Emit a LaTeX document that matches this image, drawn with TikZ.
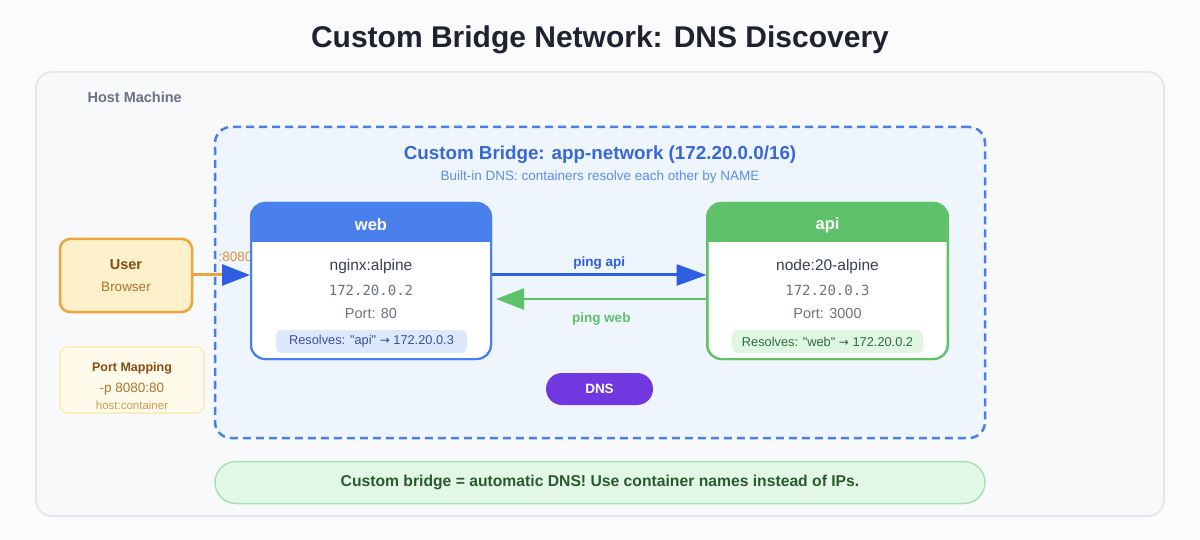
\documentclass[tikz,border=0pt]{standalone}
\usepackage{fontspec}
\setmainfont{Liberation Sans}
\setmonofont{DejaVu Sans Mono}
\newfontfamily\symfont{DejaVu Sans}
\newfontfamily\plainsans{Liberation Sans}
\usetikzlibrary{arrows.meta,positioning}
\definecolor{pagebg}{HTML}{FBFBFC}
\definecolor{hostfill}{HTML}{F8F9FB}
\definecolor{hostline}{HTML}{E2E5EA}
\definecolor{hostlabel}{HTML}{6B7280}
\definecolor{titlecol}{HTML}{1F2330}
\definecolor{bridgefill}{HTML}{EEF5FD}
\definecolor{bridgeline}{HTML}{4A7FE8}
\definecolor{bridgetitle}{HTML}{3867D6}
\definecolor{bridgesub}{HTML}{5B8DEF}
\definecolor{webblue}{HTML}{4A80EC}
\definecolor{apigreen}{HTML}{5FC26B}
\definecolor{bodytext}{HTML}{374151}
\definecolor{graytext}{HTML}{6B7280}
\definecolor{webpill}{HTML}{DDE8FB}
\definecolor{webpilltext}{HTML}{3B4FA0}
\definecolor{apipill}{HTML}{E0F6E3}
\definecolor{apipilltext}{HTML}{2F6B3A}
\definecolor{arrowblue}{HTML}{2F5FE0}
\definecolor{dnspurple}{HTML}{7138E0}
\definecolor{userfill}{HTML}{FDF1CC}
\definecolor{userline}{HTML}{EDA43A}
\definecolor{brown}{HTML}{8A4A12}
\definecolor{lightbrown}{HTML}{B0722F}
\definecolor{portfill}{HTML}{FFFBEA}
\definecolor{portline}{HTML}{FBE9A8}
\definecolor{portsmall}{HTML}{D09A50}
\definecolor{orangelabel}{HTML}{D9913D}
\definecolor{bannerfill}{HTML}{E2F7E6}
\definecolor{bannerline}{HTML}{A8E0B2}
\definecolor{bannertext}{HTML}{2A5A2E}
\tikzset{
  container/.style={rectangle, rounded corners=14pt, minimum width=240pt, minimum height=156pt, line width=2pt, fill=white, inner sep=0pt},
  headtext/.style={text=white, font=\bfseries\fontsize{16.5}{19}\selectfont},
  bodyline/.style={text=bodytext, font=\fontsize{15.5}{18}\selectfont},
  ipline/.style={text=graytext, font=\ttfamily\fontsize{14}{17}\selectfont},
  portline/.style={text=graytext, font=\fontsize{14.5}{17}\selectfont},
  pill/.style={rectangle, rounded corners=5pt, minimum width=191pt, minimum height=23pt, inner sep=0pt, font=\plainsans\fontsize{12.8}{14}\selectfont},
}
\begin{document}
\begin{tikzpicture}[x=1pt,y=-1pt]
\fill[pagebg] (0,0) rectangle (1200,540);
\useasboundingbox (0,0) rectangle (1200,540);
% title
\node[text=titlecol, font=\bfseries\fontsize{30}{35}\selectfont] (title) at (600,40) {Custom Bridge Network: DNS Discovery};
% host
\node[rectangle, rounded corners=16pt, draw=hostline, fill=hostfill, line width=1.5pt, minimum width=1128pt, minimum height=444pt] (host) at (600,294) {};
\node[anchor=west, text=hostlabel, font=\bfseries\fontsize{14.5}{17}\selectfont] (hostlbl) at (84,97) {Host Machine};
% bridge
\node[rectangle, rounded corners=16pt, draw=bridgeline, fill=bridgefill, line width=2.5pt, dash pattern=on 8pt off 5pt, minimum width=770pt, minimum height=311pt] (bridge) at (600,282.5) {};
\node[text=bridgetitle, font=\bfseries\fontsize{18.8}{22}\selectfont] (btitle) at (600,155) {Custom Bridge: app-network (172.20.0.0/16)};
\node[text=bridgesub, font=\fontsize{13.5}{16}\selectfont] (bsub) at (600,177) {Built-in DNS: containers resolve each other by NAME};
% port label (behind web box)
\node[text=orangelabel, font=\fontsize{13.5}{16}\selectfont, anchor=west] (plbl) at (215,257) {:8080};
% web container
\node[container, draw=webblue] (web) at (371,281) {};
\begin{scope}
  \clip[rounded corners=14pt] (251,203) rectangle (491,359);
  \fill[webblue] (251,203) rectangle (491,242);
\end{scope}
\draw[webblue, line width=2pt, rounded corners=14pt] (251,203) rectangle (491,359);
\node[headtext] (webh) at (371,225) {web};
\node[bodyline] (webimg) at (371,266) {nginx:alpine};
\node[ipline] (webip) at (371,290) {172.20.0.2};
\node[portline] (webport) at (371,314) {Port: 80};
\node[pill, fill=webpill, text=webpilltext] (webres) at (371.5,341.5) {Resolves: "api" {\symfont\fontsize{12}{14}\selectfont →} 172.20.0.3};
% api container
\node[container, draw=apigreen] (api) at (827.5,281) {};
\begin{scope}
  \clip[rounded corners=14pt] (707,203) rectangle (948,359);
  \fill[apigreen] (707,203) rectangle (948,242);
\end{scope}
\draw[apigreen, line width=2pt, rounded corners=14pt] (707,203) rectangle (948,359);
\node[headtext] (apih) at (827.5,225) {api};
\node[bodyline] (apiimg) at (827.5,266) {node:20-alpine};
\node[ipline] (apiip) at (827.5,290) {172.20.0.3};
\node[portline] (apiport) at (827.5,314) {Port: 3000};
\node[pill, fill=apipill, text=apipilltext] (apires) at (827.5,341.5) {Resolves: "web" {\symfont\fontsize{12}{14}\selectfont →} 172.20.0.2};
% ping arrows
\draw[arrowblue, line width=3pt, -{Triangle[length=30pt,width=21pt]}] ([yshift=6pt]web.east) -- ([yshift=6pt]api.west) node[midway, above=1pt, font=\bfseries\fontsize{13.5}{16}\selectfont] (pingapi) {ping api};
\draw[apigreen, line width=2.5pt, -{Triangle[length=28pt,width=21pt]}] ([yshift=-18pt]api.west) -- ([yshift=-18pt,xshift=4pt]web.east) node[midway, below=9pt, font=\bfseries\fontsize{13.5}{16}\selectfont] (pingweb) {ping web};
% DNS pill
\node[rectangle, rounded corners=16pt, fill=dnspurple, minimum width=107pt, minimum height=32pt, text=white, font=\bfseries\fontsize{13.5}{16}\selectfont] (dns) at (599.5,389) {DNS};
% user
\node[rectangle, rounded corners=10pt, draw=userline, fill=userfill, line width=2.5pt, minimum width=132pt, minimum height=73pt] (user) at (126,275.5) {};
\node[text=brown, font=\bfseries\fontsize{14.5}{17}\selectfont] (usert) at (126,265) {User};
\node[text=lightbrown, font=\fontsize{13.5}{16}\selectfont] (userb) at (126,287) {Browser};
\draw[userline, line width=3pt, -{Triangle[length=28pt,width=21pt,color=arrowblue]}] (user.east |- 0,275) -- ([yshift=6pt]web.west);
% port mapping
\node[rectangle, rounded corners=8pt, draw=portline, fill=portfill, line width=1.2pt, minimum width=144pt, minimum height=66pt] (port) at (132,380) {};
\node[text=brown, font=\bfseries\fontsize{12.5}{14}\selectfont] (portt) at (132,368) {Port Mapping};
\node[text=lightbrown, font=\fontsize{13.5}{16}\selectfont] (portp) at (132,389) {-p 8080:80};
\node[text=portsmall, font=\fontsize{11.5}{13}\selectfont] (porth) at (132,405) {host:container};
% banner
\node[rectangle, rounded corners=21pt, draw=bannerline, fill=bannerfill, line width=1.5pt, minimum width=770pt, minimum height=42pt, text=bannertext, font=\bfseries\fontsize{15.7}{19}\selectfont] (banner) at (600,482.5) {Custom bridge = automatic DNS! Use container names instead of IPs.};
\end{tikzpicture}
\end{document}
